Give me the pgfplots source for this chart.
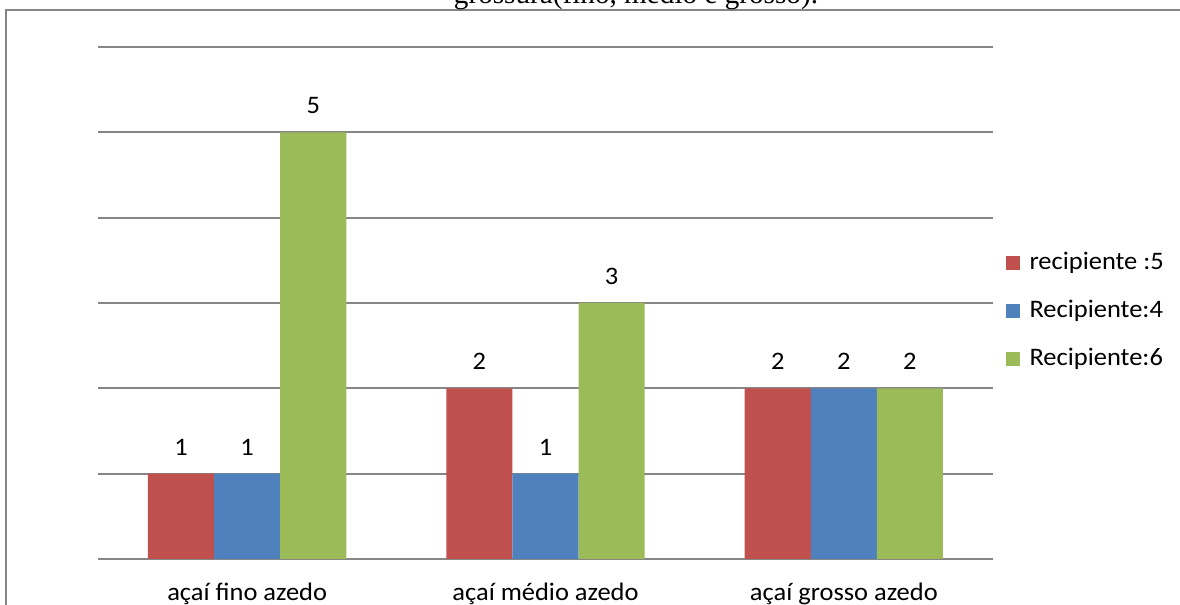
\documentclass[border=0pt]{standalone}
\usepackage{fontspec}
\usepackage{pgfplots}
\pgfplotsset{compat=1.18}
\newfontfamily\calfont[FakeStretch=1.05]{Carlito}
\newfontfamily\tnrfont{Liberation Serif}
\definecolor{cred}{HTML}{C0504D}
\definecolor{cblue}{HTML}{4F81BD}
\definecolor{cgreen}{HTML}{9BBB59}
\definecolor{cgrid}{HTML}{868686}
\newcommand{\lblfont}{\calfont\fontsize{12.6pt}{15pt}\selectfont}
\begin{document}
\begin{tikzpicture}
\begin{axis}[
  at={(0,0)}, anchor=south west,
  scale only axis, width=447.5pt, height=256pt,
  xmin=-0.5, xmax=2.5, ymin=0, ymax=6,
  /pgf/number format/assume math mode=true,
  axis x line*=bottom, axis y line*=left,
  x axis line style={draw=cgrid, line width=1pt, -},
  y axis line style={draw=none},
  xtick={0,1,2},
  xticklabels={açaí fino azedo, açaí médio azedo, açaí grosso azedo},
  xticklabel style={font=\lblfont, anchor=base, yshift=-16.5pt, inner sep=0pt},
  major x tick style={draw=none},
  extra x ticks={-0.5,0.5,1.5,2.5},
  extra x tick labels={},
  extra x tick style={tick align=outside, major tick length=5.5pt, major tick style={draw=cgrid, line width=1pt}, grid=none},
  ytick={1,2,3,4,5,6},
  yticklabels={},
  major y tick style={draw=none},
  ymajorgrids,
  grid style={draw=cgrid, line width=1pt},
  ybar, bar width=0.2216,
  nodes near coords,
  nodes near coords style={font=\lblfont, anchor=base, yshift=9.3pt, inner sep=0pt, text=black},
  legend cell align=left,
  legend style={at={(1.0145,0.484)}, anchor=west, draw=none, fill=none, inner sep=0pt,
    column sep=4.8pt, row sep=12pt,
    nodes={font=\lblfont, text height=9pt, text depth=3pt, inner sep=0pt}},
  legend image code/.code={\fill[#1] (0pt,-3.3pt) rectangle (6.8pt,3.5pt);},
]
\addplot[fill=cred, draw=none, bar shift=-0.2216] coordinates {(0,1) (1,2) (2,2)};
\addplot[fill=cblue, draw=none, bar shift=0] coordinates {(0,1) (1,1) (2,2)};
\addplot[fill=cgreen, draw=none, bar shift=0.2216] coordinates {(0,5) (1,3) (2,2)};
\legend{recipiente :5, Recipiente:4, Recipiente:6}
\end{axis}
\draw[cgrid, line width=1pt] (-46pt,-40pt) -- (-46pt,274.65pt) -- (560pt,274.65pt);
\node[font=\tnrfont\fontsize{14.6pt}{17pt}\selectfont, anchor=base, inner sep=0pt] at (269pt,277.75pt) {grossura(fino, médio e grosso).};
\pgfresetboundingbox
\useasboundingbox (-49pt,-23pt) rectangle (541pt,279.5pt);
\end{tikzpicture}
\end{document}
